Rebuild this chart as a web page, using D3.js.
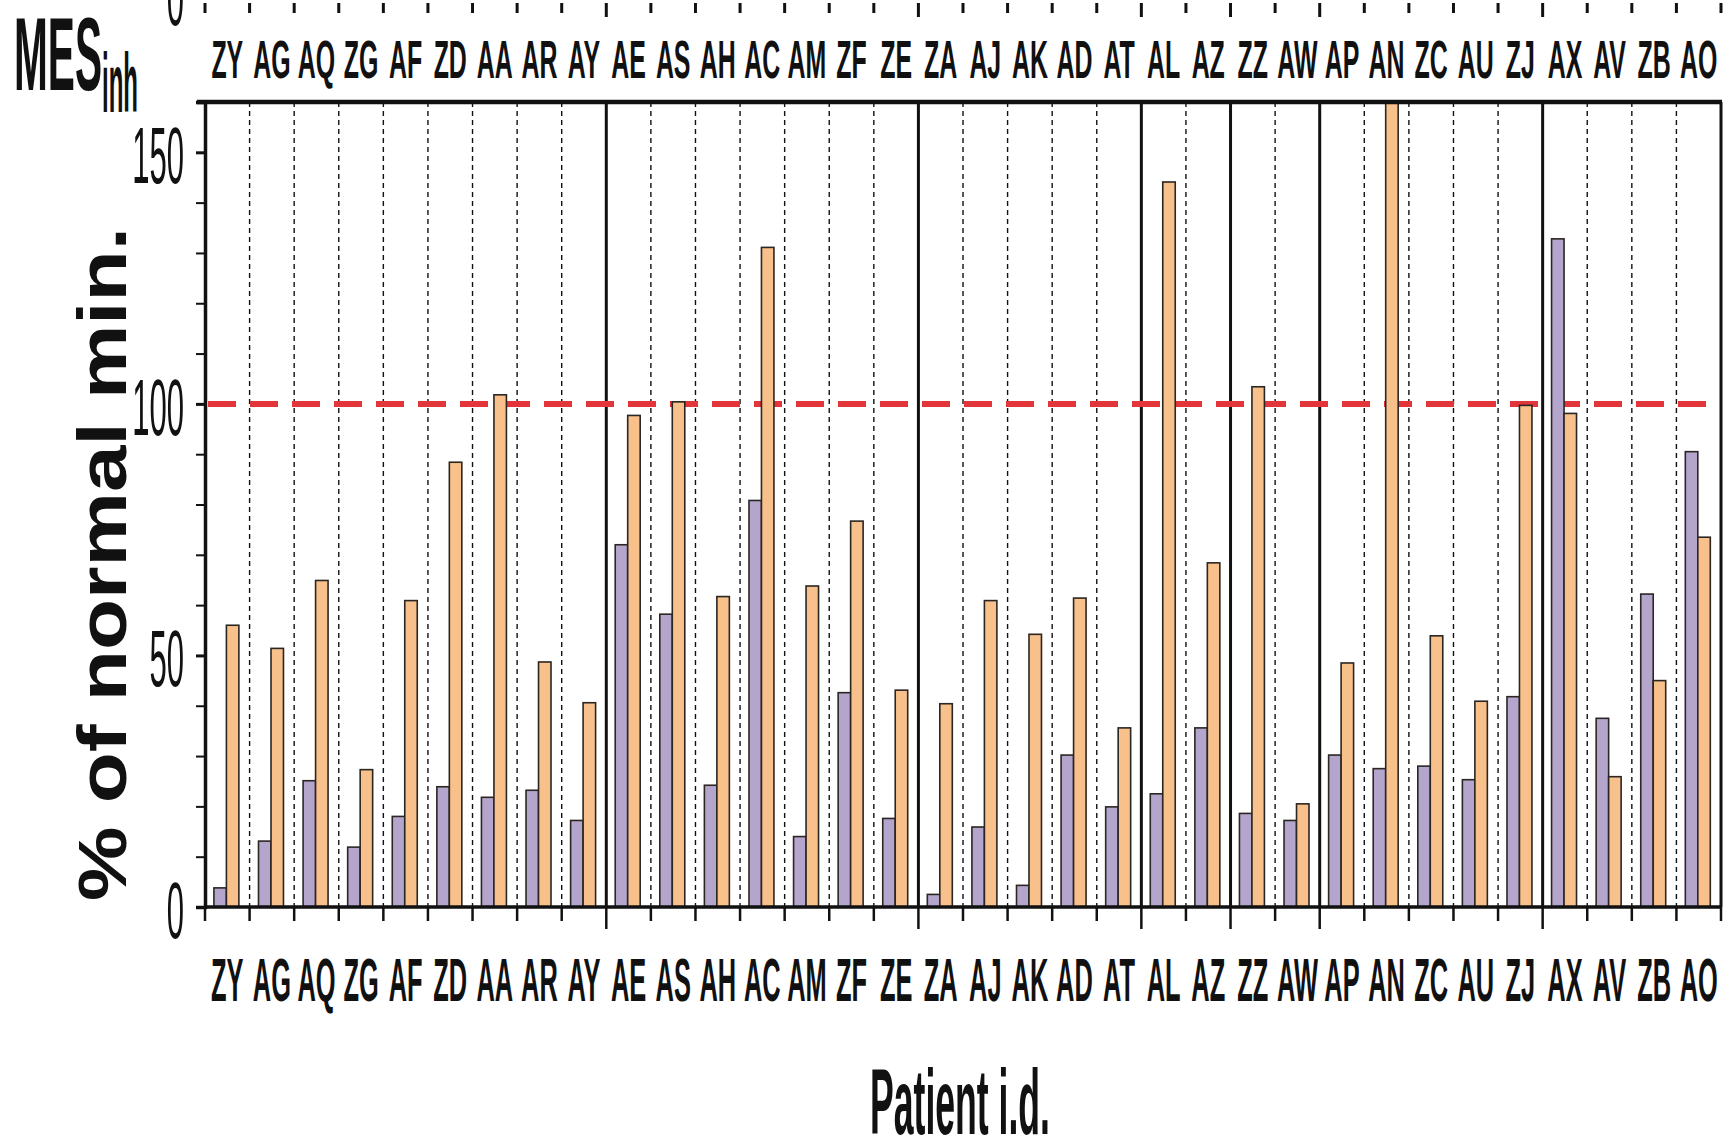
<!DOCTYPE html>
<html>
<head>
<meta charset="utf-8">
<script src="https://cdn.jsdelivr.net/npm/d3@7"></script>
<style>
  body { margin: 0; background: #fff; }
  text { font-family: 'Liberation Sans', Arial, sans-serif; fill: #111; }
</style>
</head>
<body>
<div id="chart"></div>
<script>
const patients = ['ZY','AG','AQ','ZG','AF','ZD','AA','AR','AY','AE','AS','AH','AC','AM','ZF','ZE',
  'ZA','AJ','AK','AD','AT','AL','AZ','ZZ','AW','AP','AN','ZC','AU','ZJ','AX','AV','ZB','AO'];

// purple series
const purpleVals = [3.8, 13.1, 25.1, 11.9, 18.0, 23.9, 21.8, 23.2, 17.2,
  72.0, 58.2, 24.2, 80.8, 14.0, 42.6, 17.6,
  2.5, 15.9, 4.3, 30.2, 19.9,
  22.5, 35.6,
  18.6, 17.2,
  30.2, 27.5, 28.0, 25.3, 41.8,
  132.8, 37.5, 62.2, 90.5];

// orange series
const orangeVals = [56.0, 51.4, 64.9, 27.3, 60.9, 88.4, 101.8, 48.7, 40.6,
  97.7, 100.4, 61.7, 131.1, 63.8, 76.7, 43.1,
  40.4, 60.9, 54.2, 61.4, 35.6,
  144.1, 68.4,
  103.4, 20.5,
  48.5, 160, 53.9, 40.9, 99.7,
  98.1, 25.9, 45.0, 73.5];

// index of the first patient of each new group (solid separators)
const groupBreaks = [9, 16, 21, 23, 25, 30];
const yTicks = d3.range(0, 161, 10);
const yLabels = [0, 50, 100, 150];
const refLine = 100;

const W = 1734, H = 1148;
const mLeft = 205, mRight = 1721, mTop = 102, mBottom = 907;

const svg = d3.select('#chart').append('svg')
  .attr('width', W).attr('height', H);

svg.append('rect').attr('width', W).attr('height', H).attr('fill', '#fff');

const x = d3.scaleBand().domain(patients).range([mLeft, mRight]).padding(0);
const y = d3.scaleLinear().domain([0, 160]).range([mBottom, mTop]);
const bw = x.bandwidth();

// squeeze text horizontally so it fits a measured width
function fit(sel, w) {
  const b = sel.node().getBBox();
  const s = w / b.width;
  const tx = +sel.attr('data-x'), ty = +sel.attr('data-y');
  sel.attr('x', 0).attr('y', 0)
    .attr('transform', `translate(${tx},${ty}) scale(${s},1)`);
}

// separators
const seps = d3.range(1, patients.length);
svg.append('g').selectAll('line')
  .data(seps)
  .join('line')
  .attr('x1', k => mLeft + k * bw).attr('x2', k => mLeft + k * bw)
  .attr('y1', mTop).attr('y2', mBottom)
  .attr('stroke', '#111')
  .attr('stroke-width', k => groupBreaks.includes(k) ? 3 : 1.4)
  .attr('stroke-dasharray', k => groupBreaks.includes(k) ? null : '5,4');

// reference line
svg.append('line')
  .attr('x1', mLeft + 3).attr('x2', mRight - 8)
  .attr('y1', y(refLine)).attr('y2', y(refLine))
  .attr('stroke', '#e2363b')
  .attr('stroke-width', 6)
  .attr('stroke-dasharray', '28,14');

// bars
const bars = svg.append('g').attr('stroke', '#2b2622').attr('stroke-width', 1.6);
bars.selectAll('rect.p')
  .data(patients)
  .join('rect')
  .attr('class', 'p')
  .attr('x', d => x(d) + 0.2 * bw)
  .attr('width', 0.28 * bw)
  .attr('y', (d, i) => y(purpleVals[i]))
  .attr('height', (d, i) => y(0) - y(purpleVals[i]))
  .attr('fill', '#b4a5cd');

bars.selectAll('rect.o')
  .data(patients)
  .join('rect')
  .attr('class', 'o')
  .attr('x', d => x(d) + 0.48 * bw)
  .attr('width', 0.28 * bw)
  .attr('y', (d, i) => y(Math.min(orangeVals[i], 160)))
  .attr('height', (d, i) => y(0) - y(Math.min(orangeVals[i], 160)))
  .attr('fill', '#f8c08b');

// frame: top and right
svg.append('line').attr('x1', mLeft - 8).attr('x2', mRight + 1)
  .attr('y1', mTop).attr('y2', mTop)
  .attr('stroke', '#111').attr('stroke-width', 4.5);
svg.append('line').attr('x1', mRight).attr('x2', mRight)
  .attr('y1', mTop).attr('y2', mBottom)
  .attr('stroke', '#111').attr('stroke-width', 3);

// y axis
const yAxis = svg.append('g')
  .attr('transform', `translate(${mLeft},0)`)
  .call(d3.axisLeft(y).tickValues(yTicks).tickSize(9).tickFormat(''));
yAxis.select('.domain').attr('stroke', '#111').attr('stroke-width', 3.5);
yAxis.selectAll('.tick line').attr('stroke', '#111')
  .attr('stroke-width', d => yLabels.includes(d) ? 3 : 2);

yLabels.forEach(v => {
  const t = svg.append('text')
    .attr('data-x', 184).attr('data-y', y(v) + 31)
    .attr('text-anchor', 'end')
    .attr('font-size', 80)
    .text(v);
  fit(t, 0.216 * 80 * String(v).length);
});

// clipped "0" of the panel above
const z = svg.append('text')
  .attr('data-x', 184).attr('data-y', 25)
  .attr('text-anchor', 'end').attr('font-size', 80).text('0');
fit(z, 0.216 * 80);

// x axis (bottom)
const xAxis = svg.append('g').attr('transform', `translate(0,${mBottom})`);
xAxis.append('line').attr('x1', mLeft).attr('x2', mRight)
  .attr('stroke', '#111').attr('stroke-width', 3.5);
xAxis.selectAll('line.tk')
  .data(d3.range(0, patients.length + 1))
  .join('line')
  .attr('class', 'tk')
  .attr('x1', k => mLeft + k * bw).attr('x2', k => mLeft + k * bw)
  .attr('y1', 0).attr('y2', k => groupBreaks.includes(k) ? 22 : 14)
  .attr('stroke', '#111').attr('stroke-width', 2.5);

// small ticks of the cut-off axis above
svg.append('g').selectAll('line')
  .data(d3.range(0, patients.length + 1))
  .join('line')
  .attr('x1', k => mLeft + k * bw).attr('x2', k => mLeft + k * bw)
  .attr('y1', 3).attr('y2', k => groupBreaks.includes(k) ? 17 : 13)
  .attr('stroke', '#111').attr('stroke-width', 3);

// category labels, top and bottom
svg.append('g').selectAll('text')
  .data(patients)
  .join('text')
  .attr('font-size', 53).attr('font-weight', 'bold')
  .attr('text-anchor', 'middle')
  .attr('transform', d => `translate(${x(d) + bw / 2},78) scale(0.47,1)`)
  .text(d => d);

svg.append('g').selectAll('text')
  .data(patients)
  .join('text')
  .attr('font-size', 62).attr('font-weight', 'bold')
  .attr('text-anchor', 'middle')
  .attr('transform', d => `translate(${x(d) + bw / 2},1001) scale(0.41,1)`)
  .text(d => d);

// MES inh
const mes = svg.append('text')
  .attr('data-x', 14).attr('data-y', 90)
  .attr('font-size', 104).attr('font-weight', 'bold').text('MES');
fit(mes, 88);
const inh = svg.append('text')
  .attr('data-x', 102).attr('data-y', 112)
  .attr('font-size', 84).attr('font-weight', 'bold').text('inh');
fit(inh, 36);

// y title
const yt = svg.append('text')
  .attr('text-anchor', 'middle')
  .attr('font-size', 68).attr('font-weight', 'bold')
  .text('% of normal min.');
{
  const b = yt.node().getBBox();
  const s = 674 / b.width;
  yt.attr('transform', `translate(126,564) rotate(-90) scale(${s},1)`);
}

// x title
const xt = svg.append('text')
  .attr('data-x', 960).attr('data-y', 1134)
  .attr('text-anchor', 'middle')
  .attr('font-size', 92).attr('font-weight', 'bold')
  .text('Patient i.d.');
fit(xt, 180);
</script>
</body>
</html>
